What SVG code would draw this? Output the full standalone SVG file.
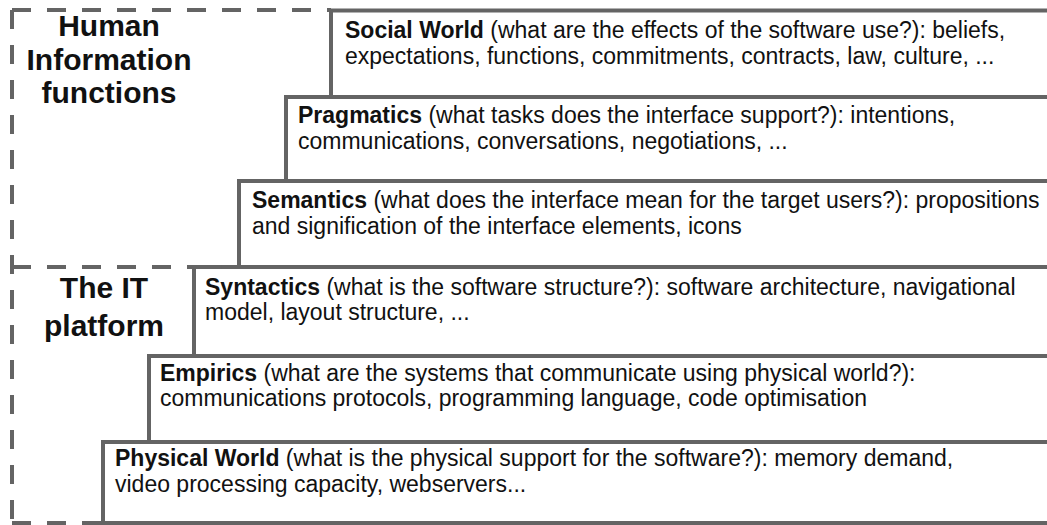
<svg xmlns="http://www.w3.org/2000/svg" width="1047" height="525" viewBox="0 0 1047 525">
  <style>
    .layer { fill: #ffffff; stroke: #646464; stroke-width: 4; }
    .frame { fill: none; stroke: #646464; stroke-width: 4; stroke-dasharray: 19 16; }
    .body { font-family: "Liberation Sans", Arial, sans-serif; font-size: 23px; fill: #111111; }
    .body .b { font-weight: bold; }
    .head { font-family: "Liberation Sans", Arial, sans-serif; font-size: 30px; font-weight: bold; fill: #111111; text-anchor: middle; }
  </style>

  <rect width="1047" height="525" fill="#ffffff"/>

  <!-- stacked semiotic layers, each box runs off the right edge -->
  <g id="social-world">
    <rect class="layer" x="331" y="10.5" width="760" height="86.5"/>
    <text class="body" x="345" y="37.5"><tspan class="b">Social World</tspan> (what are the effects of the software use?): beliefs,</text>
    <text class="body" x="345" y="63.5">expectations, functions, commitments, contracts, law, culture, ...</text>
  </g>

  <g id="pragmatics">
    <rect class="layer" x="286" y="97" width="800" height="84"/>
    <text class="body" x="298" y="123"><tspan class="b">Pragmatics</tspan> (what tasks does the interface support?): intentions,</text>
    <text class="body" x="298" y="149">communications, conversations, negotiations, ...</text>
  </g>

  <g id="semantics">
    <rect class="layer" x="239" y="181" width="850" height="86"/>
    <text class="body" x="252" y="208"><tspan class="b">Semantics</tspan> (what does the interface mean for the target users?): propositions</text>
    <text class="body" x="252" y="234">and signification of the interface elements, icons</text>
  </g>

  <g id="syntactics">
    <rect class="layer" x="194" y="267" width="900" height="89"/>
    <text class="body" x="205" y="295"><tspan class="b">Syntactics</tspan> (what is the software structure?): software architecture, navigational</text>
    <text class="body" x="205" y="320">model, layout structure, ...</text>
  </g>

  <g id="empirics">
    <rect class="layer" x="149" y="356" width="950" height="86"/>
    <text class="body" x="160" y="381"><tspan class="b">Empirics</tspan> (what are the systems that communicate using physical world?):</text>
    <text class="body" x="160" y="406">communications protocols, programming language, code optimisation</text>
  </g>

  <g id="physical-world">
    <rect class="layer" x="103" y="442" width="1000" height="81"/>
    <text class="body" x="115" y="466"><tspan class="b">Physical World</tspan> (what is the physical support for the software?): memory demand,</text>
    <text class="body" x="115" y="492">video processing capacity, webservers...</text>
  </g>

  <!-- dashed grouping frames -->
  <g id="frames">
    <path class="frame" d="M12,10 H331"/>
    <path class="frame" d="M12,10 V523"/>
    <path class="frame" d="M12,267 H239"/>
    <path class="frame" d="M12,523 H103"/>
  </g>

  <g id="human-information-functions">
    <text class="head" x="109" y="36">Human</text>
    <text class="head" x="109" y="70">Information</text>
    <text class="head" x="109" y="103">functions</text>
  </g>

  <g id="it-platform">
    <text class="head" x="104" y="298">The IT</text>
    <text class="head" x="104" y="336">platform</text>
  </g>
</svg>
